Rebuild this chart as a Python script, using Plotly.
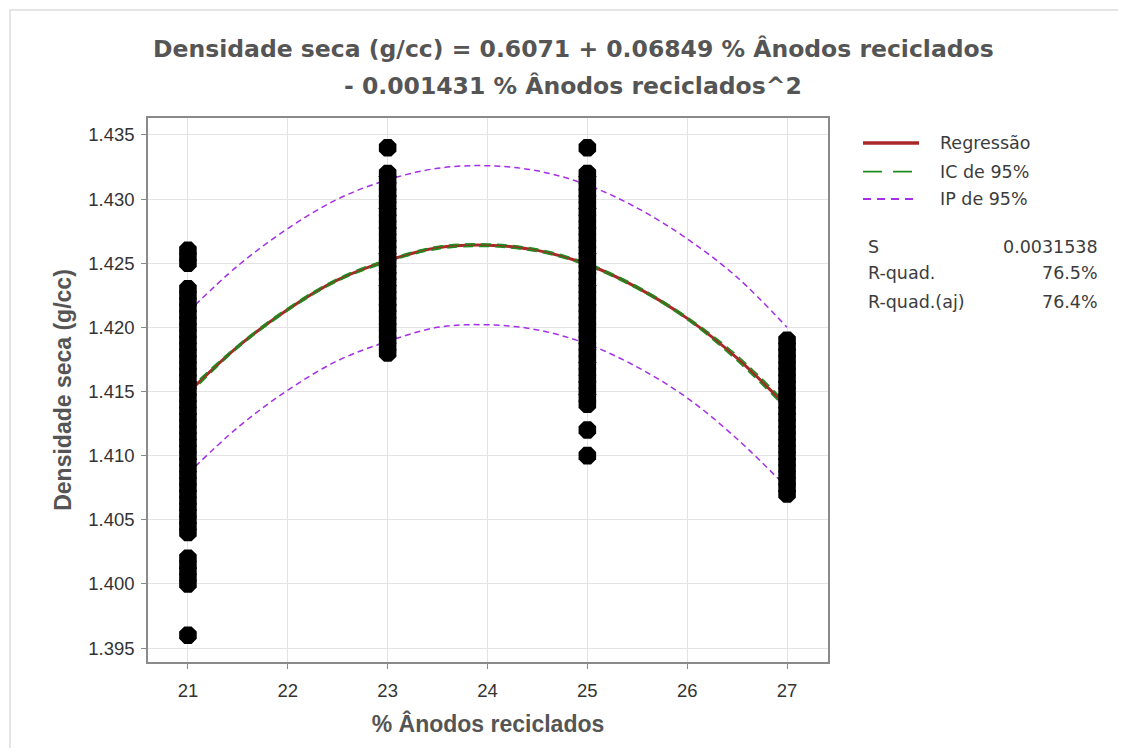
import plotly.graph_objects as go

# ---------------- data ----------------
x_levels = [21, 23, 25, 27]

dens_21 = [1.396, 1.400, 1.4005, 1.401, 1.4015, 1.402,
           1.404, 1.4045, 1.405, 1.4055, 1.406, 1.4065, 1.407, 1.4075, 1.408, 1.4085,
           1.409, 1.4095, 1.410, 1.4105, 1.411, 1.4115, 1.412, 1.4125, 1.413, 1.4135,
           1.414, 1.4145, 1.415, 1.4155, 1.416, 1.4165, 1.417, 1.4175, 1.418, 1.4185,
           1.419, 1.4195, 1.420, 1.4205, 1.421, 1.4215, 1.422, 1.4225, 1.423,
           1.425, 1.4255, 1.426]
dens_23 = [1.418, 1.4185, 1.419, 1.4195, 1.420, 1.4205, 1.421, 1.4215, 1.422, 1.4225,
           1.423, 1.4235, 1.424, 1.4245, 1.425, 1.4255, 1.426, 1.4265, 1.427, 1.4275,
           1.428, 1.4285, 1.429, 1.4295, 1.430, 1.4305, 1.431, 1.4315, 1.432, 1.434]
dens_25 = [1.410, 1.412, 1.414, 1.4145, 1.415, 1.4155, 1.416, 1.4165, 1.417, 1.4175,
           1.418, 1.4185, 1.419, 1.4195, 1.420, 1.4205, 1.421, 1.4215, 1.422, 1.4225,
           1.423, 1.4235, 1.424, 1.4245, 1.425, 1.4255, 1.426, 1.4265, 1.427, 1.4275,
           1.428, 1.4285, 1.429, 1.4295, 1.430, 1.4305, 1.431, 1.4315, 1.432, 1.434]
dens_27 = [1.407, 1.4075, 1.408, 1.4085, 1.409, 1.4095, 1.410, 1.4105, 1.411, 1.4115,
           1.412, 1.4125, 1.413, 1.4135, 1.414, 1.4145, 1.415, 1.4155, 1.416, 1.4165,
           1.417, 1.4175, 1.418, 1.4185, 1.419]

fit_x = [21, 21.5, 22, 22.5, 23, 23.5, 24, 24.5, 25, 25.5, 26, 26.5, 27]
fit_y = [1.4149, 1.4185, 1.4214, 1.4237, 1.4252, 1.4262, 1.4264, 1.4260, 1.4249,
         1.4231, 1.4207, 1.4176, 1.4138]
ci_upper = [1.4151, 1.4186, 1.4215, 1.4238, 1.4253, 1.4263, 1.4265, 1.4261, 1.4250,
            1.4232, 1.4208, 1.4178, 1.4140]
ci_lower = [1.4147, 1.4184, 1.4213, 1.4236, 1.4251, 1.4261, 1.4263, 1.4259, 1.4248,
            1.4230, 1.4206, 1.4174, 1.4136]
pi_upper = [1.4212, 1.4248, 1.4277, 1.4300, 1.4315, 1.4324, 1.4326, 1.4322, 1.4311,
            1.4293, 1.4269, 1.4239, 1.4200]
pi_lower = [1.4086, 1.4122, 1.4151, 1.4174, 1.4189, 1.4200, 1.4202, 1.4198, 1.4187,
            1.4169, 1.4145, 1.4113, 1.4075]

legend_labels = ["Regressão", "IC de 95%", "IP de 95%"]
stat_labels = ["S", "R-quad.", "R-quad.(aj)"]
stat_values = ["0.0031538", "76.5%", "76.4%"]

title_line1 = "Densidade seca (g/cc) = 0.6071 + 0.06849 % Ânodos reciclados"
title_line2 = "- 0.001431 % Ânodos reciclados^2"
x_title = "% Ânodos reciclados"
y_title = "Densidade seca (g/cc)"

# ---------------- figure ----------------
RED = "#A82828"
GREEN = "#1E8C1E"
PURPLE = "#A52FE6"
ARIAL = "Liberation Sans"
WIDE = "DejaVu Sans"
TXT = "#3c3c3c"
TITLE_C = "#555555"

fig = go.Figure()

fig.add_trace(go.Scatter(x=fit_x, y=pi_upper, mode="lines", line_shape="spline",
                         line=dict(color=PURPLE, width=1.5, dash="6px,4px"),
                         name="IP de 95%", showlegend=False))
fig.add_trace(go.Scatter(x=fit_x, y=pi_lower, mode="lines", line_shape="spline",
                         line=dict(color=PURPLE, width=1.5, dash="6px,4px"),
                         name="IP de 95%", showlegend=False))
fig.add_trace(go.Scatter(x=fit_x, y=fit_y, mode="lines", line_shape="spline",
                         line=dict(color=RED, width=3),
                         name="Regressão", showlegend=False))
fig.add_trace(go.Scatter(x=fit_x, y=ci_upper, mode="lines", line_shape="spline",
                         line=dict(color=GREEN, width=1.6, dash="10px,6px"),
                         name="IC de 95%", showlegend=False))
fig.add_trace(go.Scatter(x=fit_x, y=ci_lower, mode="lines", line_shape="spline",
                         line=dict(color=GREEN, width=1.6, dash="10px,6px"),
                         name="IC de 95%", showlegend=False))

for xv, ys in zip(x_levels, [dens_21, dens_23, dens_25, dens_27]):
    fig.add_trace(go.Scatter(x=[xv] * len(ys), y=ys, mode="markers",
                             marker=dict(symbol="octagon", size=19, color="black",
                                         line=dict(width=0)),
                             showlegend=False, hoverinfo="x+y"))

axis_common = dict(showline=True, linecolor="#8a8a8a", linewidth=1.5, mirror=True,
                   ticks="outside", ticklen=5, tickcolor="#8a8a8a",
                   showgrid=True, gridcolor="#e3e3e3", gridwidth=1, zeroline=False,
                   tickfont=dict(family=ARIAL, size=18.5, color="#333333"))

fig.update_xaxes(range=[20.6, 27.41], tickmode="array",
                 tickvals=[21, 22, 23, 24, 25, 26, 27],
                 ticklabelstandoff=6,
                 title=dict(text="<b>" + x_title + "</b>", standoff=16,
                            font=dict(family=ARIAL, size=23, color=TITLE_C)),
                 **axis_common)
fig.update_yaxes(range=[1.39391, 1.43632], tickmode="array",
                 tickvals=[1.395, 1.400, 1.405, 1.410, 1.415, 1.420, 1.425, 1.430, 1.435],
                 ticktext=["1.395", "1.400", "1.405", "1.410", "1.415", "1.420",
                           "1.425", "1.430", "1.435"],
                 ticklabelstandoff=3,
                 title=dict(text="<b>" + y_title + "</b>", standoff=10,
                            font=dict(family=ARIAL, size=23, color=TITLE_C)),
                 **axis_common)

annotations = [
    dict(text="<b>" + title_line1 + "</b>", x=0.625, y=1.1268, xref="paper", yref="paper",
         xanchor="center", yanchor="middle", showarrow=False,
         font=dict(family=WIDE, size=23.5, color=TITLE_C)),
    dict(text="<b>" + title_line2 + "</b>", x=0.625, y=1.0588, xref="paper", yref="paper",
         xanchor="center", yanchor="middle", showarrow=False,
         font=dict(family=WIDE, size=23.5, color=TITLE_C)),
]

# manual legend
leg_y = [0.954, 0.9013, 0.8511]
leg_styles = [dict(color=RED, width=3.5, dash="solid"),
              dict(color=GREEN, width=1.8, dash="19px,11px"),
              dict(color=PURPLE, width=1.8, dash="8px,6px")]
shapes = []
for lab, yy, st in zip(legend_labels, leg_y, leg_styles):
    shapes.append(dict(type="line", xref="paper", yref="paper",
                       x0=1.0515, x1=1.1338, y0=yy, y1=yy, line=st))
    annotations.append(dict(text=lab, x=1.1618, y=yy, xref="paper", yref="paper",
                            xanchor="left", yanchor="middle", showarrow=False,
                            font=dict(family=WIDE, size=17.5, color=TXT)))

stat_y = [0.7634, 0.7151, 0.6623]
for lab, val, yy in zip(stat_labels, stat_values, stat_y):
    annotations.append(dict(text=lab, x=1.0559, y=yy, xref="paper", yref="paper",
                            xanchor="left", yanchor="middle", showarrow=False,
                            font=dict(family=WIDE, size=17.5, color=TXT)))
    annotations.append(dict(text=val, x=1.40, y=yy, xref="paper", yref="paper",
                            xanchor="right", yanchor="middle", showarrow=False,
                            font=dict(family=WIDE, size=17.5, color=TXT)))

shapes.append(dict(type="rect", xref="paper", yref="paper",
                   x0=-0.2029, x1=1.6, y0=-0.4, y1=1.1985,
                   line=dict(color="#dddddd", width=1.5), layer="below"))

fig.update_layout(
    width=1110, height=740,
    margin=dict(l=140, r=290, t=110, b=86),
    paper_bgcolor="white", plot_bgcolor="white",
    showlegend=False,
    annotations=annotations,
    shapes=shapes,
)

fig.write_html("out.html")
